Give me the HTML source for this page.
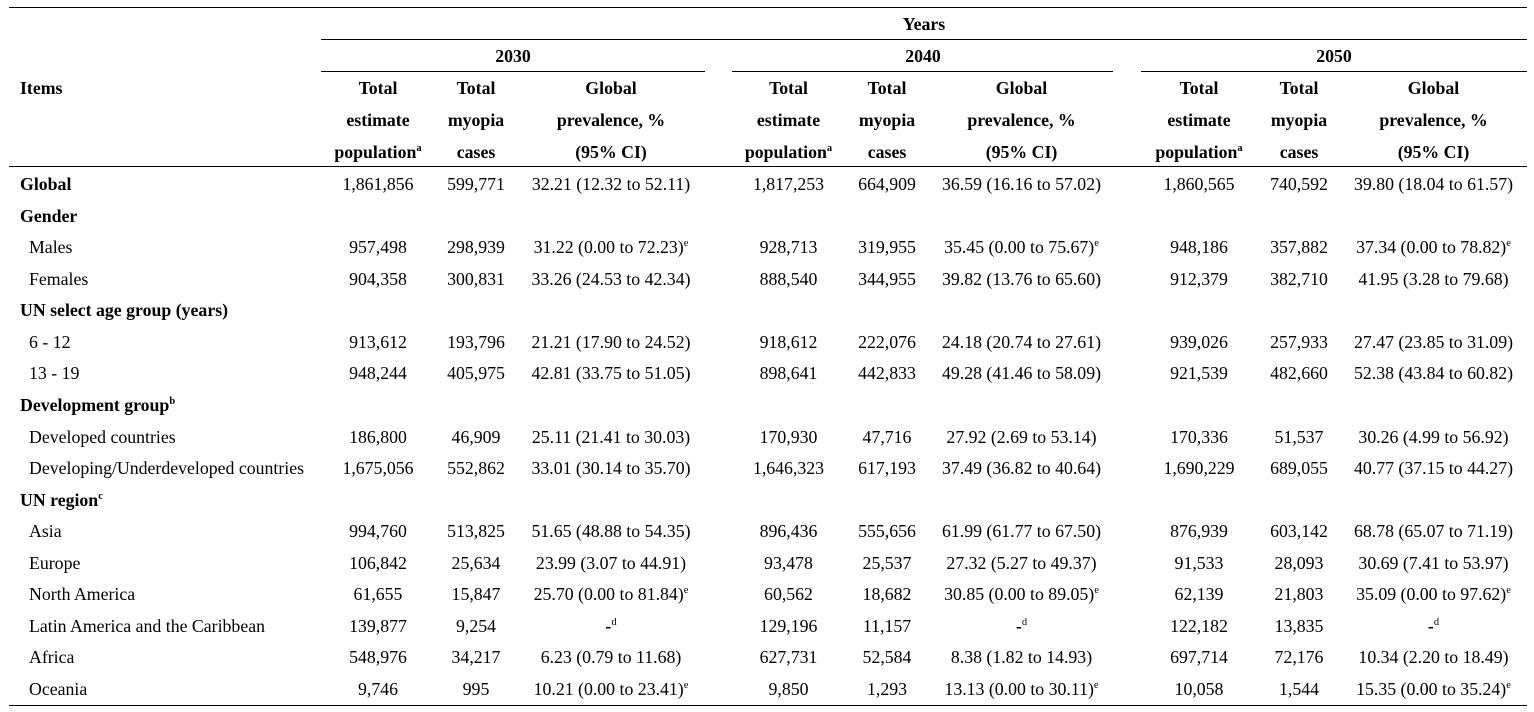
<!DOCTYPE html>
<html>
<head>
<meta charset="utf-8">
<style>
html,body{margin:0;padding:0;background:#fff;}
body{width:1534px;height:712px;position:relative;overflow:hidden;font-family:"Liberation Serif","Times New Roman",serif;font-size:17.8px;color:#000;}
.r{position:absolute;left:0;width:1534px;height:20px;line-height:20px;white-space:nowrap;}
.r span{position:absolute;top:0;white-space:nowrap;}
.c1,.c2,.c3,.c4,.c5,.c6,.c7,.c8,.c9,.ctr{transform:translateX(-50%);}
.c1{left:378px}.c2{left:476px}.c3{left:611px}
.c4{left:788.5px}.c5{left:887px}.c6{left:1021.5px}
.c7{left:1199px}.c8{left:1299px}.c9{left:1433.5px}
.lb{left:20px;font-weight:bold}
.li{left:29px}
b,.b{font-weight:bold}
sup{font-size:10.5px;line-height:0;vertical-align:0;position:relative;top:-7px;}
.ln{position:absolute;background:#000;height:1.6px;}
.h span{font-weight:bold}
</style>
</head>
<body>
<div class="ln" style="left:9px;width:1518px;top:6.5px"></div>
<div class="ln" style="left:321px;width:1206px;top:38.5px"></div>
<div class="ln" style="left:321px;width:384px;top:70.5px"></div>
<div class="ln" style="left:732px;width:381px;top:70.5px"></div>
<div class="ln" style="left:1141px;width:386px;top:70.5px"></div>
<div class="ln" style="left:9px;width:1518px;top:165.5px"></div>
<div class="ln" style="left:9px;width:1518px;top:704.5px"></div>

<div class="r h" style="top:14px"><span class="ctr" style="left:924px">Years</span></div>
<div class="r h" style="top:46px"><span class="ctr" style="left:513px">2030</span><span class="ctr" style="left:923px">2040</span><span class="ctr" style="left:1334px">2050</span></div>
<div class="r h" style="top:78px"><span style="left:20px">Items</span><span class="c1">Total</span><span class="c2">Total</span><span class="c3">Global</span><span class="c4">Total</span><span class="c5">Total</span><span class="c6">Global</span><span class="c7">Total</span><span class="c8">Total</span><span class="c9">Global</span></div>
<div class="r h" style="top:110px"><span class="c1">estimate</span><span class="c2">myopia</span><span class="c3">prevalence, %</span><span class="c4">estimate</span><span class="c5">myopia</span><span class="c6">prevalence, %</span><span class="c7">estimate</span><span class="c8">myopia</span><span class="c9">prevalence, %</span></div>
<div class="r h" style="top:142px"><span class="c1">population<sup>a</sup></span><span class="c2">cases</span><span class="c3">(95% CI)</span><span class="c4">population<sup>a</sup></span><span class="c5">cases</span><span class="c6">(95% CI)</span><span class="c7">population<sup>a</sup></span><span class="c8">cases</span><span class="c9">(95% CI)</span></div>

<div class="r" style="top:174px"><span class="lb">Global</span><span class="c1">1,861,856</span><span class="c2">599,771</span><span class="c3">32.21 (12.32 to 52.11)</span><span class="c4">1,817,253</span><span class="c5">664,909</span><span class="c6">36.59 (16.16 to 57.02)</span><span class="c7">1,860,565</span><span class="c8">740,592</span><span class="c9">39.80 (18.04 to 61.57)</span></div>
<div class="r" style="top:205.6px"><span class="lb">Gender</span></div>
<div class="r" style="top:237.1px"><span class="li">Males</span><span class="c1">957,498</span><span class="c2">298,939</span><span class="c3">31.22 (0.00 to 72.23)<sup>e</sup></span><span class="c4">928,713</span><span class="c5">319,955</span><span class="c6">35.45 (0.00 to 75.67)<sup>e</sup></span><span class="c7">948,186</span><span class="c8">357,882</span><span class="c9">37.34 (0.00 to 78.82)<sup>e</sup></span></div>
<div class="r" style="top:268.7px"><span class="li">Females</span><span class="c1">904,358</span><span class="c2">300,831</span><span class="c3">33.26 (24.53 to 42.34)</span><span class="c4">888,540</span><span class="c5">344,955</span><span class="c6">39.82 (13.76 to 65.60)</span><span class="c7">912,379</span><span class="c8">382,710</span><span class="c9">41.95 (3.28 to 79.68)</span></div>
<div class="r" style="top:300.2px"><span class="lb">UN select age group (years)</span></div>
<div class="r" style="top:331.8px"><span class="li">6 - 12</span><span class="c1">913,612</span><span class="c2">193,796</span><span class="c3">21.21 (17.90 to 24.52)</span><span class="c4">918,612</span><span class="c5">222,076</span><span class="c6">24.18 (20.74 to 27.61)</span><span class="c7">939,026</span><span class="c8">257,933</span><span class="c9">27.47 (23.85 to 31.09)</span></div>
<div class="r" style="top:363.4px"><span class="li">13 - 19</span><span class="c1">948,244</span><span class="c2">405,975</span><span class="c3">42.81 (33.75 to 51.05)</span><span class="c4">898,641</span><span class="c5">442,833</span><span class="c6">49.28 (41.46 to 58.09)</span><span class="c7">921,539</span><span class="c8">482,660</span><span class="c9">52.38 (43.84 to 60.82)</span></div>
<div class="r" style="top:394.9px"><span class="lb">Development group<sup>b</sup></span></div>
<div class="r" style="top:426.5px"><span class="li">Developed countries</span><span class="c1">186,800</span><span class="c2">46,909</span><span class="c3">25.11 (21.41 to 30.03)</span><span class="c4">170,930</span><span class="c5">47,716</span><span class="c6">27.92 (2.69 to 53.14)</span><span class="c7">170,336</span><span class="c8">51,537</span><span class="c9">30.26 (4.99 to 56.92)</span></div>
<div class="r" style="top:458px"><span class="li">Developing/Underdeveloped countries</span><span class="c1">1,675,056</span><span class="c2">552,862</span><span class="c3">33.01 (30.14 to 35.70)</span><span class="c4">1,646,323</span><span class="c5">617,193</span><span class="c6">37.49 (36.82 to 40.64)</span><span class="c7">1,690,229</span><span class="c8">689,055</span><span class="c9">40.77 (37.15 to 44.27)</span></div>
<div class="r" style="top:489.6px"><span class="lb">UN region<sup>c</sup></span></div>
<div class="r" style="top:521.2px"><span class="li">Asia</span><span class="c1">994,760</span><span class="c2">513,825</span><span class="c3">51.65 (48.88 to 54.35)</span><span class="c4">896,436</span><span class="c5">555,656</span><span class="c6">61.99 (61.77 to 67.50)</span><span class="c7">876,939</span><span class="c8">603,142</span><span class="c9">68.78 (65.07 to 71.19)</span></div>
<div class="r" style="top:552.7px"><span class="li">Europe</span><span class="c1">106,842</span><span class="c2">25,634</span><span class="c3">23.99 (3.07 to 44.91)</span><span class="c4">93,478</span><span class="c5">25,537</span><span class="c6">27.32 (5.27 to 49.37)</span><span class="c7">91,533</span><span class="c8">28,093</span><span class="c9">30.69 (7.41 to 53.97)</span></div>
<div class="r" style="top:584.3px"><span class="li">North America</span><span class="c1">61,655</span><span class="c2">15,847</span><span class="c3">25.70 (0.00 to 81.84)<sup>e</sup></span><span class="c4">60,562</span><span class="c5">18,682</span><span class="c6">30.85 (0.00 to 89.05)<sup>e</sup></span><span class="c7">62,139</span><span class="c8">21,803</span><span class="c9">35.09 (0.00 to 97.62)<sup>e</sup></span></div>
<div class="r" style="top:615.8px"><span class="li">Latin America and the Caribbean</span><span class="c1">139,877</span><span class="c2">9,254</span><span class="c3"><b>-</b><sup>d</sup></span><span class="c4">129,196</span><span class="c5">11,157</span><span class="c6"><b>-</b><sup>d</sup></span><span class="c7">122,182</span><span class="c8">13,835</span><span class="c9"><b>-</b><sup>d</sup></span></div>
<div class="r" style="top:647.4px"><span class="li">Africa</span><span class="c1">548,976</span><span class="c2">34,217</span><span class="c3">6.23 (0.79 to 11.68)</span><span class="c4">627,731</span><span class="c5">52,584</span><span class="c6">8.38 (1.82 to 14.93)</span><span class="c7">697,714</span><span class="c8">72,176</span><span class="c9">10.34 (2.20 to 18.49)</span></div>
<div class="r" style="top:679px"><span class="li">Oceania</span><span class="c1">9,746</span><span class="c2">995</span><span class="c3">10.21 (0.00 to 23.41)<sup>e</sup></span><span class="c4">9,850</span><span class="c5">1,293</span><span class="c6">13.13 (0.00 to 30.11)<sup>e</sup></span><span class="c7">10,058</span><span class="c8">1,544</span><span class="c9">15.35 (0.00 to 35.24)<sup>e</sup></span></div>
</body>
</html>
